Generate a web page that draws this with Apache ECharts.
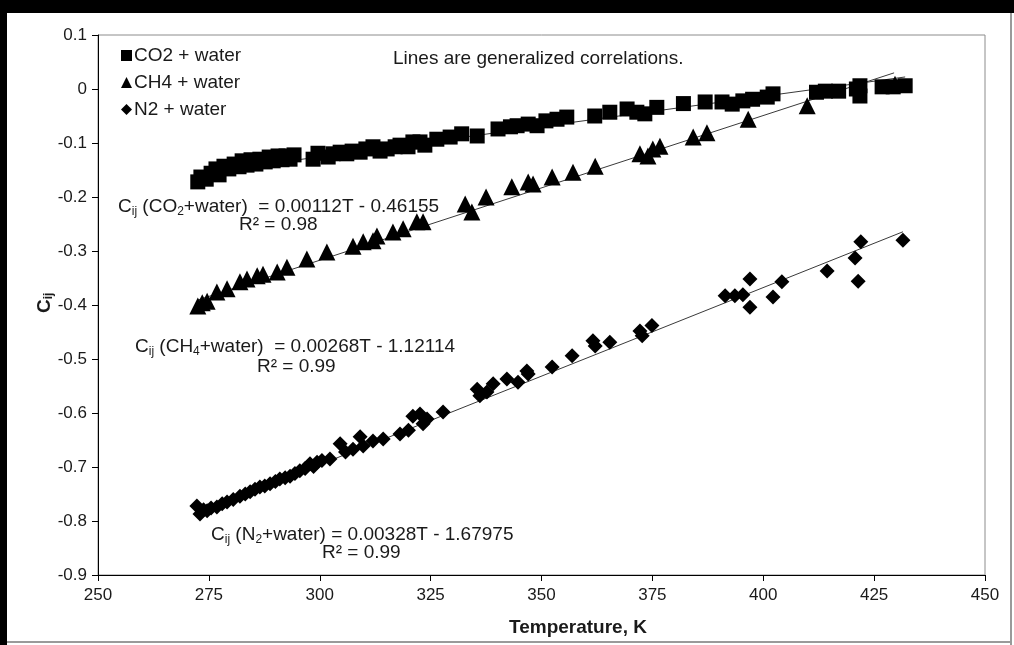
<!DOCTYPE html>
<html>
<head>
<meta charset="utf-8">
<script src="https://cdn.jsdelivr.net/npm/echarts@6/dist/echarts.min.js"></script>
<style>
html,body{margin:0;padding:0;background:#fff;}
#chart{width:1014px;height:645px;}
</style>
</head>
<body>
<div id="chart"></div>
<script>
// ---- Data (T in K, Cij) ----
var seriesNames = ['CO2 + water', 'CH4 + water', 'N2 + water'];

var co2Data = [
  [272.5,-0.172],[273.2,-0.163],[274.4,-0.167],[275.5,-0.156],[276.6,-0.148],[277.3,-0.159],
  [278.4,-0.143],[279.5,-0.148],[280.7,-0.139],[281.8,-0.144],[282.5,-0.133],[283.6,-0.141],
  [284.5,-0.131],[285.6,-0.139],[286.5,-0.130],[287.7,-0.135],[288.6,-0.126],[289.5,-0.133],
  [290.6,-0.124],[291.5,-0.131],[292.4,-0.124],[293.3,-0.130],[294.2,-0.122],[298.5,-0.130],
  [299.6,-0.119],[301.9,-0.126],[303.0,-0.120],[304.6,-0.117],[306.1,-0.120],[307.3,-0.115],
  [309.1,-0.117],[310.4,-0.111],[312.0,-0.107],[313.6,-0.115],[315.2,-0.111],[317.0,-0.107],
  [318.1,-0.104],[319.9,-0.107],[321.0,-0.098],[322.6,-0.098],[323.7,-0.104],
  [326.4,-0.093],[329.4,-0.089],[332.0,-0.083],[335.5,-0.087],[340.2,-0.074],[343.0,-0.070],
  [344.5,-0.068],[347.0,-0.065],[349.0,-0.068],[351.0,-0.059],[353.5,-0.056],[355.7,-0.052],
  [362.0,-0.050],[365.4,-0.043],[369.3,-0.037],[371.5,-0.043],[373.3,-0.046],[376.0,-0.034],
  [382.0,-0.027],[386.9,-0.024],[390.7,-0.024],[393.0,-0.028],[395.4,-0.022],[397.6,-0.019],
  [400.9,-0.015],[402.2,-0.009],[412.0,-0.006],[414.0,-0.004],[417.0,-0.004],[421.0,0.000],
  [421.8,0.006],[421.8,-0.013],[426.8,0.004],[429.3,0.004],[432.0,0.006]
];

var ch4Data = [
  [272.5,-0.402],[273.5,-0.396],[274.6,-0.393],[276.8,-0.376],[279.1,-0.370],[282.0,-0.357],
  [283.6,-0.352],[285.9,-0.346],[287.2,-0.343],[290.4,-0.339],[292.6,-0.330],[297.1,-0.315],
  [301.6,-0.302],[307.5,-0.291],[309.8,-0.283],[312.0,-0.281],[312.9,-0.272],[316.5,-0.265],
  [318.8,-0.259],[321.9,-0.246],[323.3,-0.246],[332.8,-0.213],[334.3,-0.228],[337.5,-0.200],
  [343.3,-0.181],[347.0,-0.172],[348.1,-0.176],[352.4,-0.163],[357.1,-0.154],[362.1,-0.143],
  [372.2,-0.120],[374.0,-0.124],[375.1,-0.111],[376.7,-0.106],[384.2,-0.089],[387.3,-0.081],
  [396.6,-0.056],[409.9,-0.031],[429.7,0.009]
];

var n2Data = [
  [272.3,-0.772],[273.0,-0.787],[273.8,-0.779],[274.6,-0.781],[275.5,-0.776],[276.8,-0.774],
  [278.0,-0.768],[279.1,-0.765],[280.5,-0.760],[282.0,-0.754],[283.2,-0.750],[284.3,-0.746],
  [285.4,-0.741],[286.5,-0.737],[287.6,-0.735],[288.8,-0.731],[290.0,-0.727],[291.0,-0.722],
  [292.2,-0.720],[293.3,-0.717],[294.4,-0.712],[295.5,-0.707],[296.7,-0.703],[297.8,-0.694],
  [298.6,-0.699],[299.4,-0.691],[300.5,-0.688],[302.3,-0.685],[304.6,-0.657],[305.8,-0.672],
  [307.5,-0.667],[309.1,-0.644],[309.8,-0.661],[312.0,-0.652],[314.3,-0.648],[318.1,-0.639],
  [320.0,-0.632],[321.0,-0.606],[322.6,-0.602],[323.3,-0.620],[324.2,-0.611],[327.8,-0.598],
  [335.5,-0.556],[336.1,-0.568],[337.7,-0.561],[339.1,-0.546],[342.2,-0.537],[344.7,-0.543],
  [346.7,-0.522],[347.0,-0.528],[352.4,-0.515],[356.9,-0.494],[361.6,-0.466],[362.1,-0.476],
  [365.4,-0.469],[372.2,-0.448],[372.7,-0.457],[374.9,-0.438],[391.4,-0.383],[393.6,-0.383],
  [395.4,-0.381],[397.0,-0.352],[397.0,-0.404],[402.2,-0.385],[404.2,-0.357],[414.4,-0.337],
  [420.7,-0.313],[421.4,-0.356],[422.0,-0.283],[431.5,-0.280]
];

// Generalized correlation lines (endpoints)
var co2Trend = [[272.5,-0.1564],[432.0,0.0223]];
var ch4Trend = [[272.5,-0.3908],[429.5,0.0299]];
var n2Trend  = [[272.5,-0.7860],[431.5,-0.2644]];

var xTicks = {min:250, max:450, interval:25};
var yTicks = {min:-0.9, max:0.1, interval:0.1};

var chart = echarts.init(document.getElementById('chart'));
var FONT = 'Liberation Sans, Arial, sans-serif';
var TXT = '#1a1a1a';
var subRich = {
  n:{fontSize:19, fill:TXT, fontFamily:FONT},
  s:{fontSize:12, fill:TXT, fontFamily:FONT, padding:[9,0,0,0]}
};
function eqText(x, y, str){
  return {type:'text', x:x, y:y, z:10,
    style:{text:str, rich:subRich, fontFamily:FONT, fontSize:19, fill:TXT, verticalAlign:'middle'}};
}
function plainText(x, y, str){
  return {type:'text', x:x, y:y, z:10,
    style:{text:str, fontFamily:FONT, fontSize:19, fill:TXT, verticalAlign:'middle'}};
}

var option = {
  backgroundColor:'#ffffff',
  animation:false,
  grid:{left:98, right:29, top:35, bottom:70, show:true, borderColor:'#8c8c8c', borderWidth:1},
  legend:{
    data:seriesNames, orient:'vertical', left:116, top:41, itemGap:8,
    itemWidth:11, itemHeight:11,
    textStyle:{fontFamily:FONT, fontSize:19, color:TXT, padding:[0,0,0,-3]}
  },
  xAxis:{
    type:'value', min:xTicks.min, max:xTicks.max, interval:xTicks.interval,
    axisLine:{show:true, onZero:false, lineStyle:{color:'#000', width:1}},
    axisTick:{show:true, inside:false, length:6, lineStyle:{color:'#000'}},
    axisLabel:{fontFamily:FONT, fontSize:17, color:TXT, margin:12},
    splitLine:{show:false}
  },
  yAxis:{
    type:'value', min:yTicks.min, max:yTicks.max, interval:yTicks.interval,
    axisLine:{show:true, onZero:false, lineStyle:{color:'#000', width:1}},
    axisTick:{show:true, inside:false, length:6, lineStyle:{color:'#000'}},
    axisLabel:{fontFamily:FONT, fontSize:17, color:TXT, margin:11,
      formatter:function(v){ var r=Math.round(v*10)/10; return r===0?'0':r.toFixed(1); }},
    splitLine:{show:false}
  },
  series:[
    {name:'CO2 fit', type:'line', data:co2Trend, symbol:'none', silent:true, z:1,
     lineStyle:{color:'#3a3a3a', width:1}},
    {name:'CH4 fit', type:'line', data:ch4Trend, symbol:'none', silent:true, z:1,
     lineStyle:{color:'#3a3a3a', width:1}},
    {name:'N2 fit', type:'line', data:n2Trend, symbol:'none', silent:true, z:1,
     lineStyle:{color:'#3a3a3a', width:1}},
    {name:seriesNames[0], type:'scatter', data:co2Data, symbol:'rect', symbolSize:15, z:3,
     itemStyle:{color:'#000', opacity:1}},
    {name:seriesNames[1], type:'scatter', data:ch4Data, symbol:'triangle', symbolSize:17, z:3,
     itemStyle:{color:'#000', opacity:1}},
    {name:seriesNames[2], type:'scatter', data:n2Data, symbol:'diamond', symbolSize:15, z:3,
     itemStyle:{color:'#000', opacity:1}}
  ],
  graphic:[
    // outer frame
    {type:'rect', left:0, top:0, z:20, shape:{width:1014, height:13}, style:{fill:'#000'}},
    {type:'rect', left:0, top:0, z:20, shape:{width:7, height:645}, style:{fill:'#000'}},
    {type:'rect', left:1010, top:13, z:20, shape:{width:2, height:632}, style:{fill:'#9a9a9a'}},
    {type:'rect', left:7, top:641, z:20, shape:{width:1005, height:2}, style:{fill:'#9a9a9a'}},
    // y axis title (rotated)
    {type:'text', x:34, y:313, rotation:Math.PI/2, z:10,
     style:{text:'{c|C}{s|ij}', rich:{
       c:{fontFamily:FONT, fontSize:19, fontWeight:'bold', fill:TXT},
       s:{fontFamily:FONT, fontSize:12, fontWeight:'bold', fill:TXT, padding:[9,0,0,0]}
     }}},
    // x axis title
    {type:'text', x:509, y:628, z:10,
     style:{text:'Temperature, K', fontFamily:FONT, fontSize:19, fontWeight:'bold', fill:TXT, verticalAlign:'middle'}},
    plainText(393, 59, 'Lines are generalized correlations.'),
    eqText(118, 207, '{n|C}{s|ij}{n| (CO}{s|2}{n|+water)  = 0.00112T - 0.46155}'),
    plainText(239, 225, 'R² = 0.98'),
    eqText(135, 347, '{n|C}{s|ij}{n| (CH}{s|4}{n|+water)  = 0.00268T - 1.12114}'),
    plainText(257, 367, 'R² = 0.99'),
    eqText(211, 535, '{n|C}{s|ij}{n| (N}{s|2}{n|+water) = 0.00328T - 1.67975}'),
    plainText(322, 553, 'R² = 0.99')
  ]
};
chart.setOption(option);
</script>
</body>
</html>
